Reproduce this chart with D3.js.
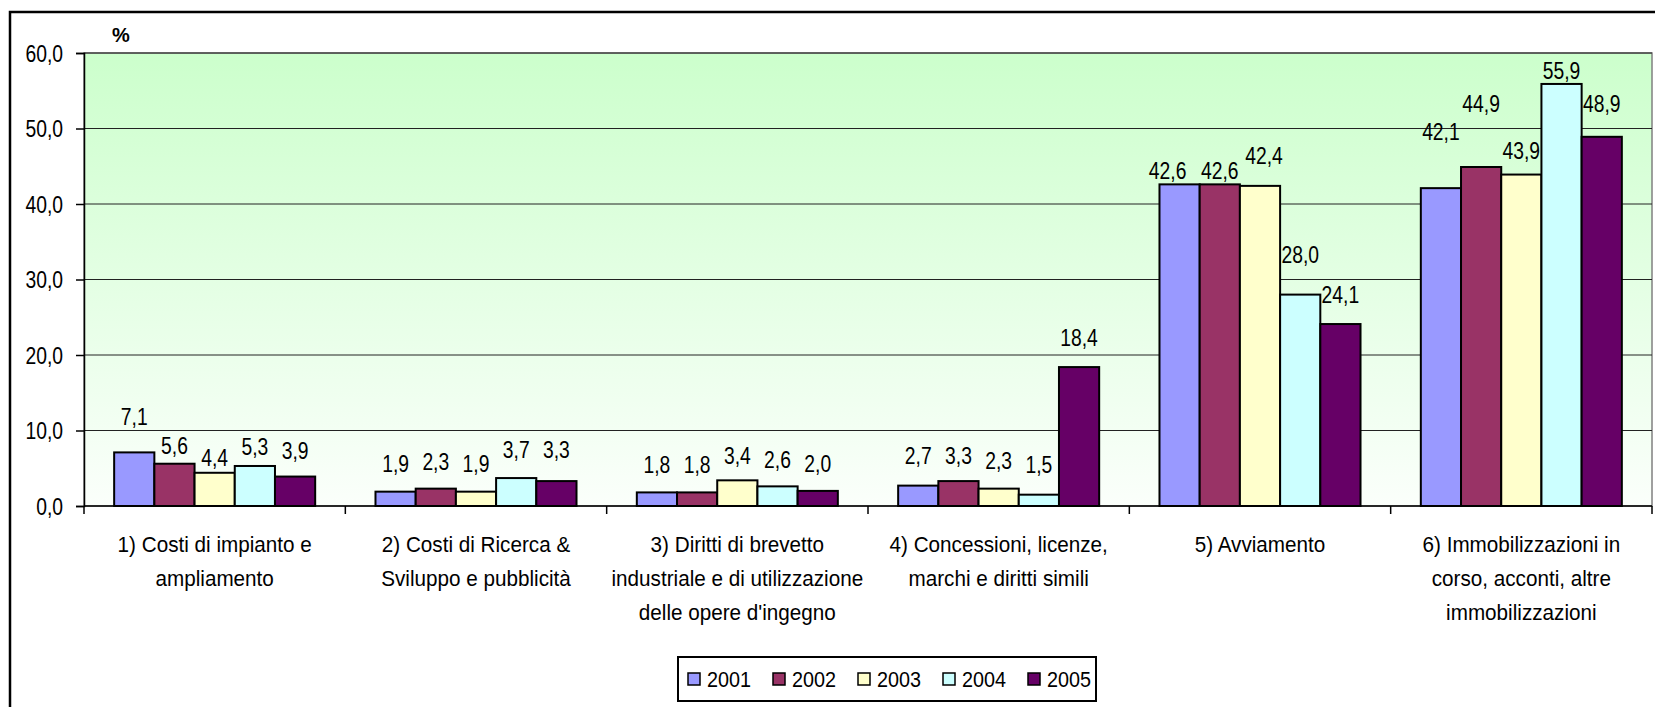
<!DOCTYPE html>
<html>
<head>
<meta charset="utf-8">
<script src="https://cdn.jsdelivr.net/npm/d3@7/dist/d3.min.js"></script>
<style>
  body { margin: 0; background: #fff; }
  svg { display: block; }
  text { font-family: "Liberation Sans", Arial, sans-serif; fill: #000; }
</style>
</head>
<body>
<div id="root"></div>
<script>
// categories (each split on lines as in the original)
const categories = [
  ['1) Costi di impianto e', 'ampliamento'],
  ['2) Costi di Ricerca &', 'Sviluppo e pubblicità'],
  ['3) Diritti di brevetto', 'industriale e di utilizzazione', 'delle opere d\'ingegno'],
  ['4) Concessioni, licenze,', 'marchi e diritti simili'],
  ['5) Avviamento'],
  ['6) Immobilizzazioni in', 'corso, acconti, altre', 'immobilizzazioni']
];
const years = ['2001', '2002', '2003', '2004', '2005'];
const v2001 = [7.1, 1.9, 1.8, 2.7, 42.6, 42.1];
const v2002 = [5.6, 2.3, 1.8, 3.3, 42.6, 44.9];
const v2003 = [4.4, 1.9, 3.4, 2.3, 42.4, 43.9];
const v2004 = [5.3, 3.7, 2.6, 1.5, 28.0, 55.9];
const v2005 = [3.9, 3.3, 2.0, 18.4, 24.1, 48.9];
const yTicks = [0, 10, 20, 30, 40, 50, 60];

const colors = ['#9999ff', '#993366', '#ffffcc', '#ccffff', '#660066'];
// label lift above bar top (px), labels were hand placed in the original
const lift = [
  [36, 28, 28, 30, 14, 56],
  [18, 27, 28, 25, 14, 63],
  [15, 28, 25, 28, 30, 24],
  [19, 28, 27, 30, 40, 13],
  [26, 31, 27, 29, 29, 33]
];
// sideways nudge of a few labels (px) so they don't collide
const nudge = [
  [0, 0, 0, 0, -12, 0],
  [0, 0, 0, 0, 0, 0],
  [0, 0, 0, 0, 4, 0],
  [0, 0, 0, 0, 0, 0],
  [0, 0, 0, 0, 0, 0]
];

const series = [v2001, v2002, v2003, v2004, v2005];
const fmt = v => v.toFixed(1).replace('.', ',');
const NARROW = 0.84; // the original font is a condensed one

const W = 1655, H = 707;
const plot = { left: 84, right: 1652, top: 53, bottom: 506 };

const svg = d3.select('#root').append('svg').attr('width', W).attr('height', H);

// outer frame, runs off the picture on right and bottom
svg.append('rect')
  .attr('x', 10).attr('y', 12).attr('width', 1700).attr('height', 760)
  .attr('fill', '#fff').attr('stroke', '#000').attr('stroke-width', 2.5);

const grad = svg.append('defs').append('linearGradient')
  .attr('id', 'bg').attr('x1', 0).attr('y1', 0).attr('x2', 0).attr('y2', 1);
grad.append('stop').attr('offset', '0%').attr('stop-color', '#ccffcc');
grad.append('stop').attr('offset', '100%').attr('stop-color', '#fbfffb');

const x0 = d3.scaleBand().domain(d3.range(categories.length))
  .range([plot.left, plot.right]).paddingInner(0).paddingOuter(0);
const bw = x0.bandwidth() / 6.5;
const x1 = d3.scaleBand().domain(d3.range(years.length))
  .range([x0.bandwidth() * 0.75 / 6.5, x0.bandwidth() * 0.75 / 6.5 + bw * 5]);
const y = d3.scaleLinear().domain([0, 60]).range([plot.bottom, plot.top]);

svg.append('rect')
  .attr('x', plot.left).attr('y', plot.top)
  .attr('width', plot.right - plot.left).attr('height', plot.bottom - plot.top)
  .attr('fill', 'url(#bg)').attr('stroke', '#808080').attr('stroke-width', 1.5);

// grid lines
svg.append('g').selectAll('line').data(yTicks.filter(t => t > 0)).enter().append('line')
  .attr('x1', plot.left).attr('x2', plot.right)
  .attr('y1', d => y(d)).attr('y2', d => y(d))
  .attr('stroke', '#222').attr('stroke-width', 1);

// y axis
const yAxis = svg.append('g').attr('transform', `translate(${plot.left},0)`)
  .call(d3.axisLeft(y).tickValues(yTicks).tickSize(8).tickFormat(fmt));
yAxis.select('.domain').attr('stroke', '#000').attr('stroke-width', 1.5);
yAxis.selectAll('.tick line').attr('stroke', '#000').attr('stroke-width', 1.5);
yAxis.selectAll('.tick text').attr('font-size', 23).style('font-family', null)
  .attr('x', -21 / NARROW).attr('dy', '0.36em')
  .attr('transform', `scale(${NARROW},1)`);

svg.append('text').attr('x', 121).attr('y', 42).attr('text-anchor', 'middle')
  .attr('font-size', 20).attr('font-weight', 'bold').text('%');

// bars
const groups = svg.append('g').selectAll('g').data(categories).enter().append('g')
  .attr('transform', (d, i) => `translate(${x0(i)},0)`);

groups.selectAll('rect').data((d, i) => series.map((s, k) => ({ k, v: s[i] }))).enter().append('rect')
  .attr('x', d => x1(d.k)).attr('width', x1.bandwidth())
  .attr('y', d => y(d.v)).attr('height', d => y(0) - y(d.v))
  .attr('fill', d => colors[d.k]).attr('stroke', '#000').attr('stroke-width', 2);

groups.selectAll('text.val')
  .data((d, i) => series.map((s, k) => ({ k, v: s[i], l: lift[k][i], n: nudge[k][i] })))
  .enter().append('text')
  .attr('class', 'val')
  .attr('transform', d => `translate(${x1(d.k) + x1.bandwidth() / 2 + d.n},${y(d.v) - d.l}) scale(${NARROW},1)`)
  .attr('dy', '0.36em')
  .attr('text-anchor', 'middle').attr('font-size', 23)
  .text(d => fmt(d.v));

// x axis
svg.append('line').attr('x1', plot.left).attr('x2', plot.right)
  .attr('y1', plot.bottom).attr('y2', plot.bottom).attr('stroke', '#000').attr('stroke-width', 1.5);
svg.append('g').selectAll('line').data(d3.range(categories.length + 1)).enter().append('line')
  .attr('x1', i => plot.left + i * x0.bandwidth()).attr('x2', i => plot.left + i * x0.bandwidth())
  .attr('y1', plot.bottom).attr('y2', plot.bottom + 8).attr('stroke', '#000').attr('stroke-width', 1.5);

const labels = svg.append('g').selectAll('text').data(categories).enter().append('text')
  .attr('transform', (d, i) => `translate(${x0(i) + x0.bandwidth() / 2},0) scale(0.94,1)`)
  .attr('text-anchor', 'middle').attr('font-size', 22);
labels.selectAll('tspan').data(d => d).enter().append('tspan')
  .attr('x', 0)
  .attr('y', (d, j) => 552 + j * 34)
  .text(d => d);

// legend
const lg = svg.append('g');
lg.append('rect').attr('x', 678).attr('y', 657).attr('width', 418).attr('height', 44)
  .attr('fill', '#fff').attr('stroke', '#000').attr('stroke-width', 2);
const items = lg.selectAll('g').data(years).enter().append('g')
  .attr('transform', (d, i) => `translate(${688 + i * 85},679)`);
items.append('rect').attr('x', 0).attr('y', -6).attr('width', 12).attr('height', 12)
  .attr('fill', (d, i) => colors[i]).attr('stroke', '#000').attr('stroke-width', 1.5);
items.append('text').attr('transform', 'translate(19,0) scale(0.9,1)').attr('dy', '0.36em')
  .attr('font-size', 22).text(d => d);
</script>
</body>
</html>
